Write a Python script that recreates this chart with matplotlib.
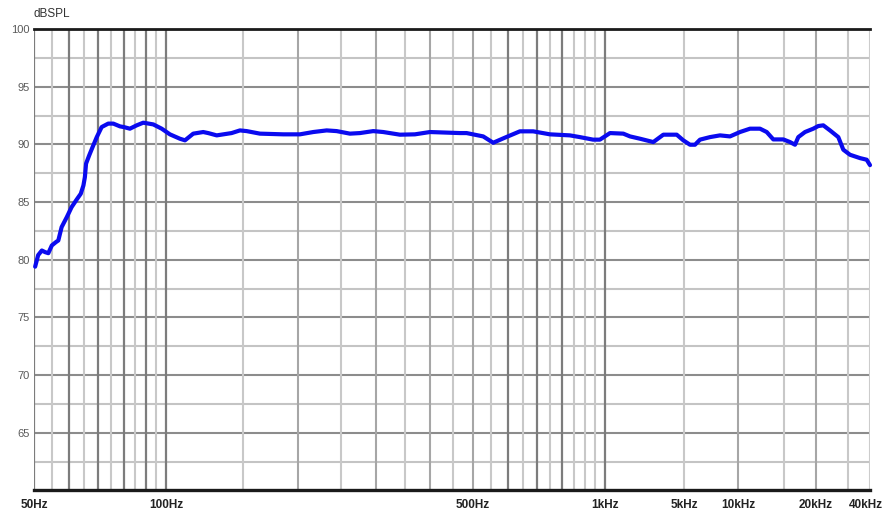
import numpy as np
import matplotlib
matplotlib.use("Agg")
import matplotlib.pyplot as plt
from matplotlib.transforms import ScaledTranslation

plt.rcParams['font.family'] = ['Liberation Sans', 'DejaVu Sans']

# Frequency response (Hz, dB SPL)
freq_hz = [50.3, 51.1, 52.1, 53.0, 53.9, 54.9, 56.1, 56.8, 57.8, 59.4,
           60.9, 62.5, 63.9, 64.8, 65.3, 65.7, 66.8, 68.0, 69.5, 71.3,
           73.8, 75.8, 78.5, 80.1, 82.7, 85.7, 88.7, 93.5, 97.7, 102.0,
           107.5, 110.4, 115.3, 121.5, 124.7, 130.4, 141.0, 147.3, 152.6, 163.6,
           184.9, 201.8, 216.4, 232.2, 244.7, 262.3, 276.5, 296.4, 312.4, 341.0,
           368.9, 399.1, 467.1, 483.8, 527.8, 556.2, 591.3, 639.8, 686, 749,
           831.7, 876.5, 939.5, 973.5, 1107, 1452, 1665, 2040, 2675, 3281,
           4310, 4930, 5400, 5758, 6141, 6980, 7937, 9025, 10179, 11125,
           12159, 12907, 13685, 14957, 15874, 16596, 17089, 18139, 19523, 20600,
           21964, 23936, 26628, 28394, 30940, 35184, 38333, 40000]
spl_db = [79.4, 80.4, 80.8, 80.66, 80.57, 81.24, 81.53, 81.67, 82.83, 83.7,
          84.56, 85.2, 85.72, 86.44, 87.16, 88.33, 89.05, 89.77, 90.63, 91.5,
          91.8, 91.8, 91.56, 91.5, 91.36, 91.65, 91.88, 91.73, 91.36, 90.87,
          90.49, 90.35, 90.93, 91.07, 90.98, 90.78, 90.98, 91.21, 91.15, 90.93,
          90.87, 90.87, 91.07, 91.21, 91.15, 90.93, 90.98, 91.15, 91.07, 90.84,
          90.87, 91.07, 90.98, 90.98, 90.69, 90.14, 90.58, 91.13, 91.13, 90.87,
          90.78, 90.63, 90.41, 90.41, 90.98, 90.93, 90.69, 90.49, 90.2, 90.84,
          90.84, 90.35, 89.97, 89.97, 90.41, 90.63, 90.78, 90.69, 91.07, 91.36,
          91.36, 91.07, 90.43, 90.43, 90.2, 89.97, 90.63, 91.07, 91.36, 91.59,
          91.65, 91.21, 90.63, 89.54, 89.1, 88.81, 88.67, 88.2]

# Frequency axis: logarithmic segments between these anchor frequencies
axis_freqs = [50, 1000, 5000, 10000, 20000, 40000]
axis_pos = [0.0, 571.0, 650.0, 704.0, 782.0, 836.0]

x_tick_freqs = [50, 100, 500, 1000, 5000, 10000, 20000, 40000]
x_tick_labels = ['50Hz', '100Hz', '500Hz', '1kHz', '5kHz', '10kHz', '20kHz', '40kHz']
y_ticks = [65, 70, 75, 80, 85, 90, 95, 100]

grid_dark = [60, 70, 80, 90, 100, 600, 700, 800, 1000]
grid_mid = [200, 300, 400, 500, 10000, 20000]
grid_light = [55, 65, 75, 85, 95, 150, 250, 350, 450, 550, 650, 750, 850, 900,
              950, 5000, 15000, 30000]

log_anchor = np.log10(axis_freqs)


def fwd(f):
    f = np.maximum(np.asarray(f, dtype=float), 1e-9)
    return np.interp(np.log10(f), log_anchor, axis_pos)


def inv(p):
    return 10 ** np.interp(np.asarray(p, dtype=float), axis_pos, log_anchor)


W, H = 884, 511
fig = plt.figure(figsize=(W / 100, H / 100), dpi=100)
ax = fig.add_axes([34 / W, 1 - 490.5 / H, (870 - 34) / W, (490.5 - 29) / H])
ax.set_xscale('function', functions=(fwd, inv))
ax.set_xlim(50, 40000)
ax.set_ylim(60, 100)

for s in ax.spines.values():
    s.set_visible(False)

# horizontal grid
for v in np.arange(62.5, 100, 2.5):
    major = abs(v % 5) < 1e-6
    ax.axhline(v, color='#8c8c8c' if major else '#c4c4c4', lw=1.5, zorder=1)

# vertical grid
for f in grid_light:
    ax.axvline(f, color='#c8c8c8', lw=1.5, zorder=1)
for f in grid_mid:
    ax.axvline(f, color='#a6a6a6', lw=1.5, zorder=1)
for f in grid_dark:
    ax.axvline(f, color='#7c7c7c', lw=1.6, zorder=1)

# frame
ax.axvline(50, color='#7c7c7c', lw=1.6, zorder=2)
ax.axvline(40000, color='#cccccc', lw=1.5, zorder=2)
ax.axhline(100, color='#1a1a1a', lw=2.0, zorder=3, clip_on=False)
ax.axhline(60, color='#1a1a1a', lw=2.4, zorder=3, clip_on=False)

ax.plot(freq_hz, spl_db, color='#0a0aef', lw=3.0, zorder=4,
        solid_capstyle='round', solid_joinstyle='round', clip_on=False)

ax.set_yticks(y_ticks)
ax.set_yticklabels([str(v) for v in y_ticks])
ax.tick_params(axis='y', length=0, pad=3, labelsize=8, labelcolor='#5a5a5a')

ax.set_xticks(x_tick_freqs)
ax.set_xticklabels(x_tick_labels)
ax.xaxis.set_minor_locator(matplotlib.ticker.NullLocator())
ax.tick_params(axis='x', length=0, pad=6, labelsize=8.5, labelcolor='#222222')
xlabels = ax.get_xticklabels()
for t in xlabels:
    t.set_fontweight('bold')
# keep the last label inside the figure
xlabels[-1].set_horizontalalignment('right')
xlabels[-1].set_transform(xlabels[-1].get_transform()
                          + ScaledTranslation(13 / 100, 0, fig.dpi_scale_trans))

fig.text(34 / W, 1 - 14 / H, 'dBSPL', ha='left', va='center',
         fontsize=8.5, color='#333333')

fig.savefig('out.png', dpi=100, facecolor='white')
